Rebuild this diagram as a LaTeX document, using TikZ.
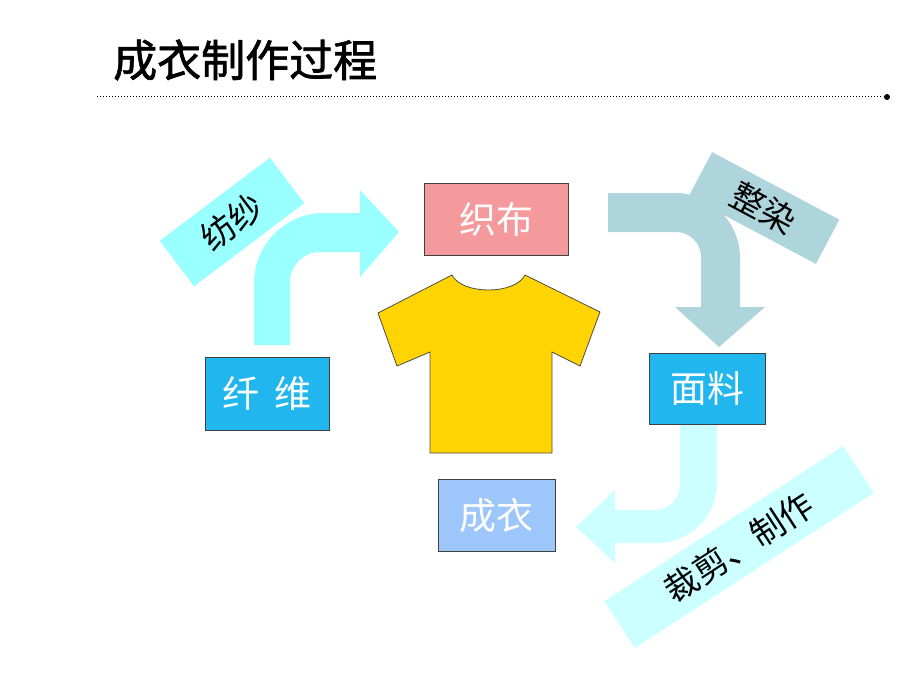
\documentclass[tikz,border=0pt]{standalone}
\usepackage{fontspec}
\setmainfont{Noto Sans CJK SC}
\begin{document}
\begin{tikzpicture}[x=1pt,y=1pt,
  box/.style={draw=black!75,line width=0.8pt,inner sep=0pt,text=white,font=\fontsize{37}{40}\selectfont},
  lbl/.style={inner sep=0pt,font=\fontsize{34}{36}\selectfont}]
\definecolor{pinkc}{HTML}{F59A9C}
\definecolor{bluec}{HTML}{22B6EE}
\definecolor{lbluec}{HTML}{9DC6FA}
\definecolor{cyanA}{HTML}{99FFFF}
\definecolor{grayc}{HTML}{AED5DC}
\definecolor{cyanB}{HTML}{CCFFFF}
\definecolor{shirtc}{HTML}{FFD400}
\useasboundingbox (0,0) rectangle (920,-690);
% title
\node[anchor=west,inner sep=0pt,font=\fontsize{44}{48}\selectfont\addfontfeature{FakeBold=1.5}] (title) at (113,-60) {成衣制作过程};
\coordinate (l1) at (97,-97); \coordinate (l2) at (883,-97);
\draw[line width=1pt,dotted] (l1) -- (l2);
\fill (887,-97) circle (3);
% arrows
\fill[cyanA] (254,-345) [rounded corners=70pt] -- (254,-213) [sharp corners] -- (360,-213) -- (360,-190) -- (399,-232) -- (360,-277) -- (360,-252) [rounded corners=30pt] -- (290,-252) [sharp corners] -- (290,-345) -- cycle;
\fill[grayc] (608,-193) [rounded corners=65pt] -- (740,-193) [sharp corners] -- (740,-307) -- (765,-307) -- (719,-347) -- (675,-307) -- (701,-307) [rounded corners=25pt] -- (701,-232) [sharp corners] -- (608,-232) -- cycle;
\fill[cyanB] (717,-425) [rounded corners=60pt] -- (717,-543) [sharp corners] -- (615,-543) -- (615,-563) -- (576,-527) -- (615,-490) -- (615,-510) [rounded corners=25pt] -- (680,-510) [sharp corners] -- (680,-425) -- cycle;
% labels
\node[lbl,fill=cyanA,minimum width=138,minimum height=57,rotate=37] (fs) at (232,-222) {纺纱};
\node[lbl,fill=grayc,minimum width=144,minimum height=50,rotate=-28] (zr) at (764,-208) {整染};
\node[lbl,fill=cyanB,minimum width=285,minimum height=56,rotate=33] (cj) at (739,-547) {裁剪、制作};
% shirt
\draw[fill=shirtc,draw=black!70,line width=0.8pt] (452,-275) .. controls (462,-295) and (515,-295) .. (525,-275) -- (600,-312) -- (580,-366) -- (552,-352) -- (552,-453) -- (430,-453) -- (430,-352) -- (397,-366) -- (378,-313) -- cycle;
% boxes
\node[box,fill=pinkc,minimum width=144,minimum height=72] (zb) at (496,-219) {织布};
\node[box,fill=bluec,minimum width=124,minimum height=73] (xw) at (267,-393.5) {纤\hspace{0.4em}维};
\node[box,fill=bluec,minimum width=116,minimum height=71] (ml) at (707,-388.5) {面料};
\node[box,fill=lbluec,minimum width=117,minimum height=72] (cy) at (496.5,-515) {成衣};
\end{tikzpicture}
\end{document}
